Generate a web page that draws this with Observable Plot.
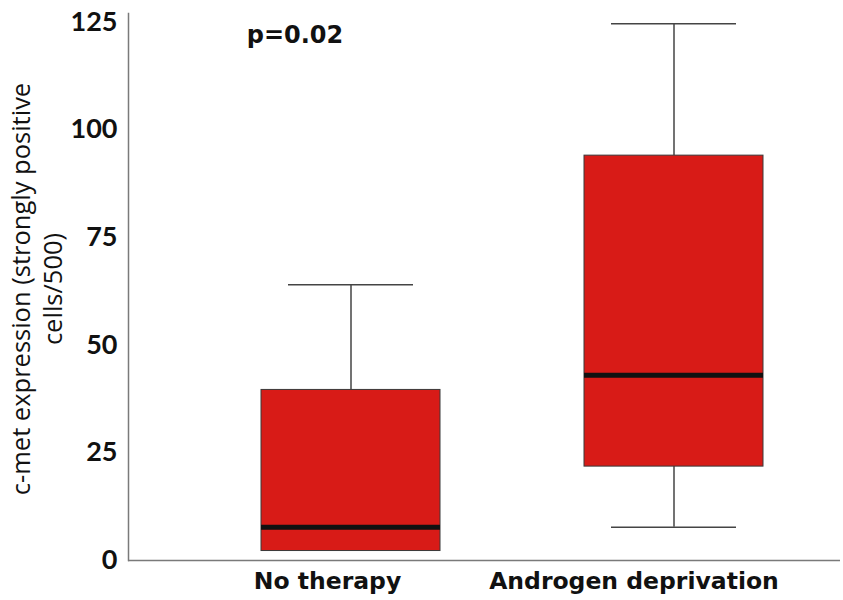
<!DOCTYPE html>
<html>
<head>
<meta charset="utf-8">
<script src="https://cdn.jsdelivr.net/npm/d3@7"></script>
<script src="https://cdn.jsdelivr.net/npm/@observablehq/plot@0.6"></script>
<style>
  html, body { margin: 0; padding: 0; background: #fff; }
  #chart svg { display: block; }
</style>
</head>
<body>
<div id="chart"></div>
<script>
// Categories and box-plot summary values
const categories = ["No therapy", "Androgen deprivation"];
const minValues = [2.2, 7.7];
const q1Values = [2.2, 21.8];
const medianValues = [7.7, 43.0];
const q3Values = [39.6, 94.0];
const maxValues = [64.0, 124.6];
const yTicks = [0, 25, 50, 75, 100, 125];
const yTitle = "c-met expression (strongly positive\ncells/500)";
const annotationText = "p=0.02";
const annotationY = 121.9;

const data = categories.map((c, i) => ({
  group: c, min: minValues[i], q1: q1Values[i], median: medianValues[i],
  q3: q3Values[i], max: maxValues[i]
}));

const boxFill = "#d81b17";
const numFont = "Lato, sans-serif";
const titleFont = "'Open Sans', sans-serif";
const catFont = "'DejaVu Sans', Verdana, sans-serif";

const chart = Plot.plot({
  width: 843,
  height: 600,
  marginLeft: 128,
  marginRight: 3,
  marginTop: 13,
  marginBottom: 40,
  style: {background: "#fff", color: "#111"},
  x: {domain: categories, paddingInner: 0.446, paddingOuter: 0.325, align: 0.635, axis: null},
  y: {domain: [0, 127], axis: null},
  marks: [
    // axis lines
    Plot.frame({anchor: "left", stroke: "#7a7a7a", strokeWidth: 1.5}),
    Plot.ruleY([0], {stroke: "#7a7a7a", strokeWidth: 1.5}),
    // whiskers
    Plot.ruleX(data, {x: "group", y1: "q3", y2: "max", stroke: "#444", strokeWidth: 1.5}),
    Plot.ruleX(data, {x: "group", y1: "min", y2: "q1", stroke: "#444", strokeWidth: 1.5}),
    Plot.tickY(data, {x: "group", y: "max", stroke: "#444", strokeWidth: 1.5, insetLeft: 27, insetRight: 27}),
    Plot.tickY(data.filter(d => d.min < d.q1), {x: "group", y: "min", stroke: "#444", strokeWidth: 1.5, insetLeft: 27, insetRight: 27}),
    // boxes
    Plot.barY(data, {x: "group", y1: "q1", y2: "q3", fill: boxFill, stroke: "#3a3a3a", strokeWidth: 1}),
    // medians
    Plot.tickY(data, {x: "group", y: "median", stroke: "#111", strokeWidth: 5}),
    // y axis
    Plot.axisY({ticks: yTicks, tickSize: 0, tickPadding: 11, fontFamily: numFont, fontWeight: "bold", fontSize: 27, label: null, color: "#111"}),
    // x axis labels (each label placed under its box, shifted as in the reference)
    Plot.axisX({ticks: [categories[0]], tickSize: 0, tickPadding: 12, dx: -23.5, fontFamily: catFont, fontWeight: "bold", fontSize: 23.5, label: null, color: "#111"}),
    Plot.axisX({ticks: [categories[1]], tickSize: 0, tickPadding: 12, dx: -40, fontFamily: catFont, fontWeight: "bold", fontSize: 23.5, label: null, color: "#111"}),
    // y title
    Plot.text([yTitle], {frameAnchor: "left", rotate: -90, dx: -92.5, dy: 2, textAnchor: "middle", lineAnchor: "middle", lineHeight: 1.22, fontFamily: titleFont, fontSize: 25.5, fill: "#111"}),
    // annotation
    Plot.text([annotationText], {x: () => categories[0], y: () => annotationY, dx: -56, fontFamily: catFont, fontWeight: "bold", fontSize: 24, fill: "#111"})
  ]
});
document.getElementById("chart").appendChild(chart);
</script>
</body>
</html>
